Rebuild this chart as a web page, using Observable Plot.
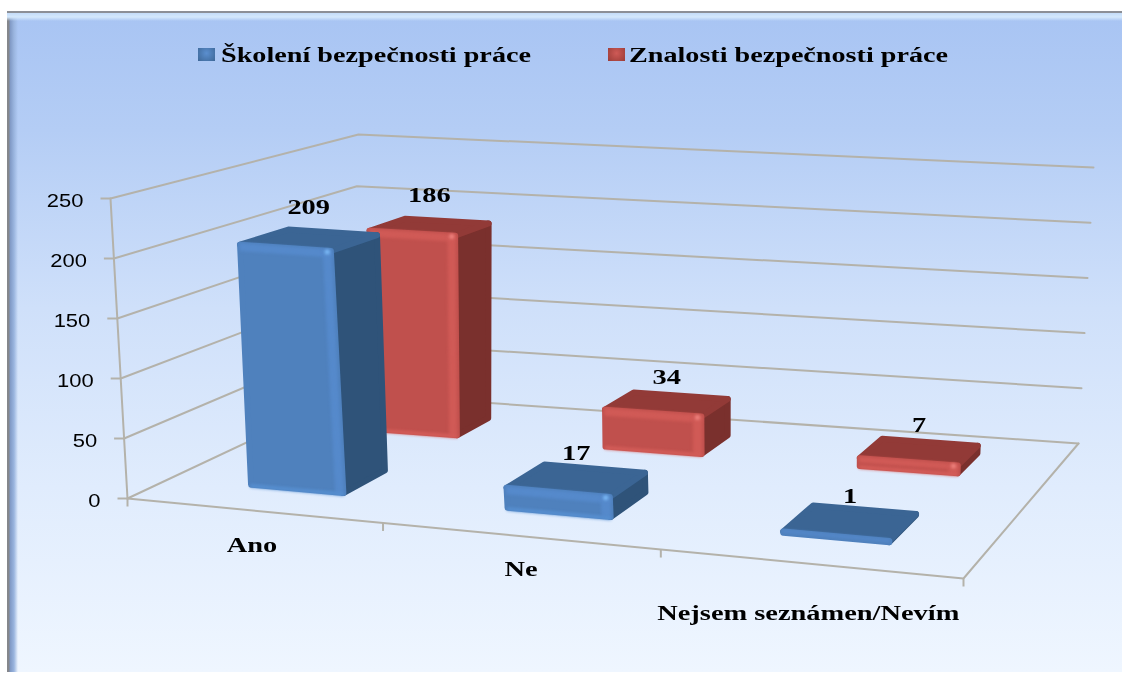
<!DOCTYPE html>
<html><head><meta charset="utf-8">
<script src="https://cdn.jsdelivr.net/npm/d3@7"></script>
<script src="https://cdn.jsdelivr.net/npm/@observablehq/plot@0.6"></script>
<style>
html,body{margin:0;padding:0;background:#fff;overflow:hidden}
#page{position:relative;width:1122px;height:675px;overflow:hidden}
#frame{position:absolute;left:7px;top:11px;right:0;height:661px;box-sizing:border-box;
  background:
   linear-gradient(to bottom,#8c8f96 0,#8c8f96 2px,#c4dcf9 2px,#d4e8fc 6px,rgba(168,196,243,0) 10px),
   linear-gradient(to right,#85878c 0,#85878c 2px,#7f98c4 3px,#9ab5df 7px,rgba(168,196,243,0) 11px),
   linear-gradient(to bottom,#a8c4f3 0,#b4cdf5 18%,#cfe0fa 45%,#e0ecfd 72%,#eff6ff 100%);}
#plot{position:absolute;left:0;top:0}
#plot svg{background:transparent;display:block;filter:blur(.55px)}
#plot svg .bevel{filter:blur(1.8px)}
.leg{position:absolute;font:bold 20px "Liberation Serif",serif;color:#000;white-space:nowrap;transform-origin:left top;filter:blur(.4px)}
.sw{position:absolute;width:17px;height:13px;filter:blur(.5px)}
</style></head><body>
<div id="page"><div id="frame"></div><div id="plot"></div></div>
<script>
const categories = ["Ano","Ne","Nejsem seznámen/Nevím"];
const seriesNames = ["Školení bezpečnosti práce","Znalosti bezpečnosti práce"];
const skoleni = [209,17,1];
const znalosti = [186,34,7];
const valueTicks = [0,50,100,150,200,250];
const valueMax = 250;

// perspective of the 3D box (corners of floor and of ceiling)
const floorQuad = [[127,498],[963,578],[1078,443],[350,393]];
const topQuad   = [[110,198],[975,258],[1093,167],[358,134]];
function homography(q){
  const [[x0,y0],[x1,y1],[x2,y2],[x3,y3]]=q;
  const dx1=x1-x2,dx2=x3-x2,dx3=x0-x1+x2-x3,dy1=y1-y2,dy2=y3-y2,dy3=y0-y1+y2-y3;
  const den=dx1*dy2-dx2*dy1,g=(dx3*dy2-dx2*dy3)/den,h=(dx1*dy3-dx3*dy1)/den;
  const a=x1-x0+g*x1,b=x3-x0+h*x3,d=y1-y0+g*y1,e=y3-y0+h*y3;
  return (u,v)=>{const k=g*u+h*v+1;return [(a*u+b*v+x0)/k,(d*u+e*v+y0)/k];};
}
const hF=homography(floorQuad), hT=homography(topQuad);
// c: category coordinate 0..3, w: depth 0..1, v: value
function P(c,w,v){
  const f=hF(c/3,w), t=hT(c/3,w), s=v/valueMax;
  return {x:f[0]+(t[0]-f[0])*s, y:f[1]+(t[1]-f[1])*s};
}

const barHalf = [.19,.19,.175];
const barGeom = [
  {values:skoleni, center:[.528,1.548,2.515], w0:.175, w1:.365,
   front:"#4f81bd", side:"#2f5379", top:"#3b6594", light:"#5589cb", spot:"#7dbcf8", low:"#5790d2"},
  {values:znalosti, center:[.557,1.555,2.515], w0:.69, w1:.86,
   front:"#c0504d", side:"#7a302d", top:"#923a37", light:"#d05a56", spot:"#f08480", low:"#d65e5a"}
];

const polys=[], spots=[];
function poly(pts,color,sw,cls){polys.push({pts,color,sw,cls});}
function bar(g,i){
  const v=g.values[i]*.975, c0=g.center[i]-barHalf[i], c1=g.center[i]+barHalf[i], w0=g.w0, w1=g.w1;
  const bev=Math.min(5,v*.5), du=.03, rw=6;
  poly([P(c1,w0,0),P(c1,w1,0),P(c1,w1,v),P(c1,w0,v)],g.side,rw);
  poly([P(c0,w0,v),P(c1,w0,v),P(c1,w1,v),P(c0,w1,v)],g.top,rw);
  poly([P(c0,w0,0),P(c1,w0,0),P(c1,w0,v),P(c0,w0,v)],g.front,rw);
  poly([P(c0,w0,v+1),P(c1,w0,v+1),P(c1,w0,v-bev),P(c0,w0,v-bev)],g.light,1,"bevel");
  if(v>4){
    poly([P(c1-du,w0,0),P(c1,w0,0),P(c1,w0,v),P(c1-du,w0,v)],g.light,1,"bevel");
    poly([P(c0,w0,-2),P(c1,w0,-2),P(c1,w0,0),P(c0,w0,0)],g.low,1,"bevel");
    spots.push({...P(c1-du*.5,w0,v-bev*.2),color:g.spot});
  }
}
for(let i=0;i<3;i++) bar(barGeom[1],i);
for(let i=0;i<3;i++) bar(barGeom[0],i);

const gridLines = valueTicks.map(v=>[P(0,0,v),P(0,1,v),P(3,1,v)]);
const frameLines = [[P(0,0,0),P(0,0,valueMax)],[P(0,0,0),P(3,0,0),P(3,1,0)]];
const tickEnds = valueTicks.map(v=>({...P(0,0,v),v}));
const catTickSpots = [0,1.03,2.03,3];
const catTicks = catTickSpots.map(c=>P(c,0,0));
const labelDrop = [41,40,56];
const labelShift = [-1,6,-1];
const catLabels = categories.map((t,i)=>({...P(i+.52,0,0),t,drop:labelDrop[i],shift:labelShift[i]}));
const valueLabels = [];
barGeom.forEach(g=>g.values.forEach((v,i)=>{
  valueLabels.push({...P(g.center[i],(g.w0+g.w1)/2,v),t:String(v)});
}));

const gridStyle={x:"x",y:"y",stroke:"#b4b2aa",strokeWidth:2};
const plot=Plot.plot({
  width:1122,height:675,margin:0,
  style:{background:"transparent"},
  x:{domain:[0,1122],range:[0,1122],axis:null},
  y:{domain:[0,675],range:[0,675],axis:null},
  marks:[
    ...gridLines.map(l=>Plot.line(l,gridStyle)),
    ...frameLines.map(l=>Plot.line(l,gridStyle)),
    Plot.link(tickEnds,{x1:d=>d.x-10,x2:"x",y1:"y",y2:"y",stroke:"#b4b2aa",strokeWidth:2}),
    Plot.link(catTicks,{x1:"x",x2:"x",y1:"y",y2:d=>d.y+8,stroke:"#b4b2aa",strokeWidth:2}),
    ...polys.map(p=>Plot.line(p.pts,{x:"x",y:"y",curve:"linear-closed",fill:p.color,stroke:p.color,strokeWidth:p.sw,strokeLinejoin:"round",className:p.cls})),
    Plot.dot(spots,{x:"x",y:"y",r:2.5,fill:"color",stroke:null,className:"bevel"}),
    Plot.text(tickEnds,{x:d=>d.x-27,y:"y",dy:3,text:d=>String(d.v),textAnchor:"end",fontFamily:"Liberation Sans",fontSize:18,fill:"#000",stroke:null,className:"tick-label"}),
    Plot.text(catLabels,{x:d=>d.x+d.shift,y:d=>d.y+d.drop,dy:-6,text:"t",textAnchor:"middle",fontFamily:"Liberation Serif",fontWeight:"bold",fontSize:20,fill:"#000",className:"serif-label"}),
    Plot.text(valueLabels,{x:"x",y:"y",dy:-26,text:"t",textAnchor:"middle",fontFamily:"Liberation Serif",fontWeight:"bold",fontSize:20,fill:"#000",className:"serif-label"})
  ]
});
document.getElementById("plot").appendChild(plot);
plot.querySelectorAll("g.tick-label text").forEach(t=>{t.setAttribute("textLength",t.getComputedTextLength()*1.22);t.setAttribute("lengthAdjust","spacingAndGlyphs");});
plot.querySelectorAll("g.serif-label text").forEach(t=>{t.setAttribute("textLength",t.getComputedTextLength()*1.42);t.setAttribute("lengthAdjust","spacingAndGlyphs");});

// legend
const page=document.getElementById("page");
const legendColors=[["#5b8fcf","#3d6797"],["#cf5a56","#9a3c38"]];
const legendSlots=[[198,221,310],[608,629,319]];
seriesNames.forEach((n,i)=>{
  const [sx,tx,tw]=legendSlots[i];
  const s=document.createElement("div");s.className="sw";s.style.left=sx+"px";s.style.top="48px";
  s.style.background=`radial-gradient(circle at 50% 40%,${legendColors[i][0]},${legendColors[i][1]})`;
  page.appendChild(s);
  const t=document.createElement("div");t.className="leg";t.textContent=n;t.style.left=tx+"px";t.style.top="44px";
  page.appendChild(t);
  t.style.transform=`scaleX(${tw/t.getBoundingClientRect().width})`;
});
</script></body></html>
